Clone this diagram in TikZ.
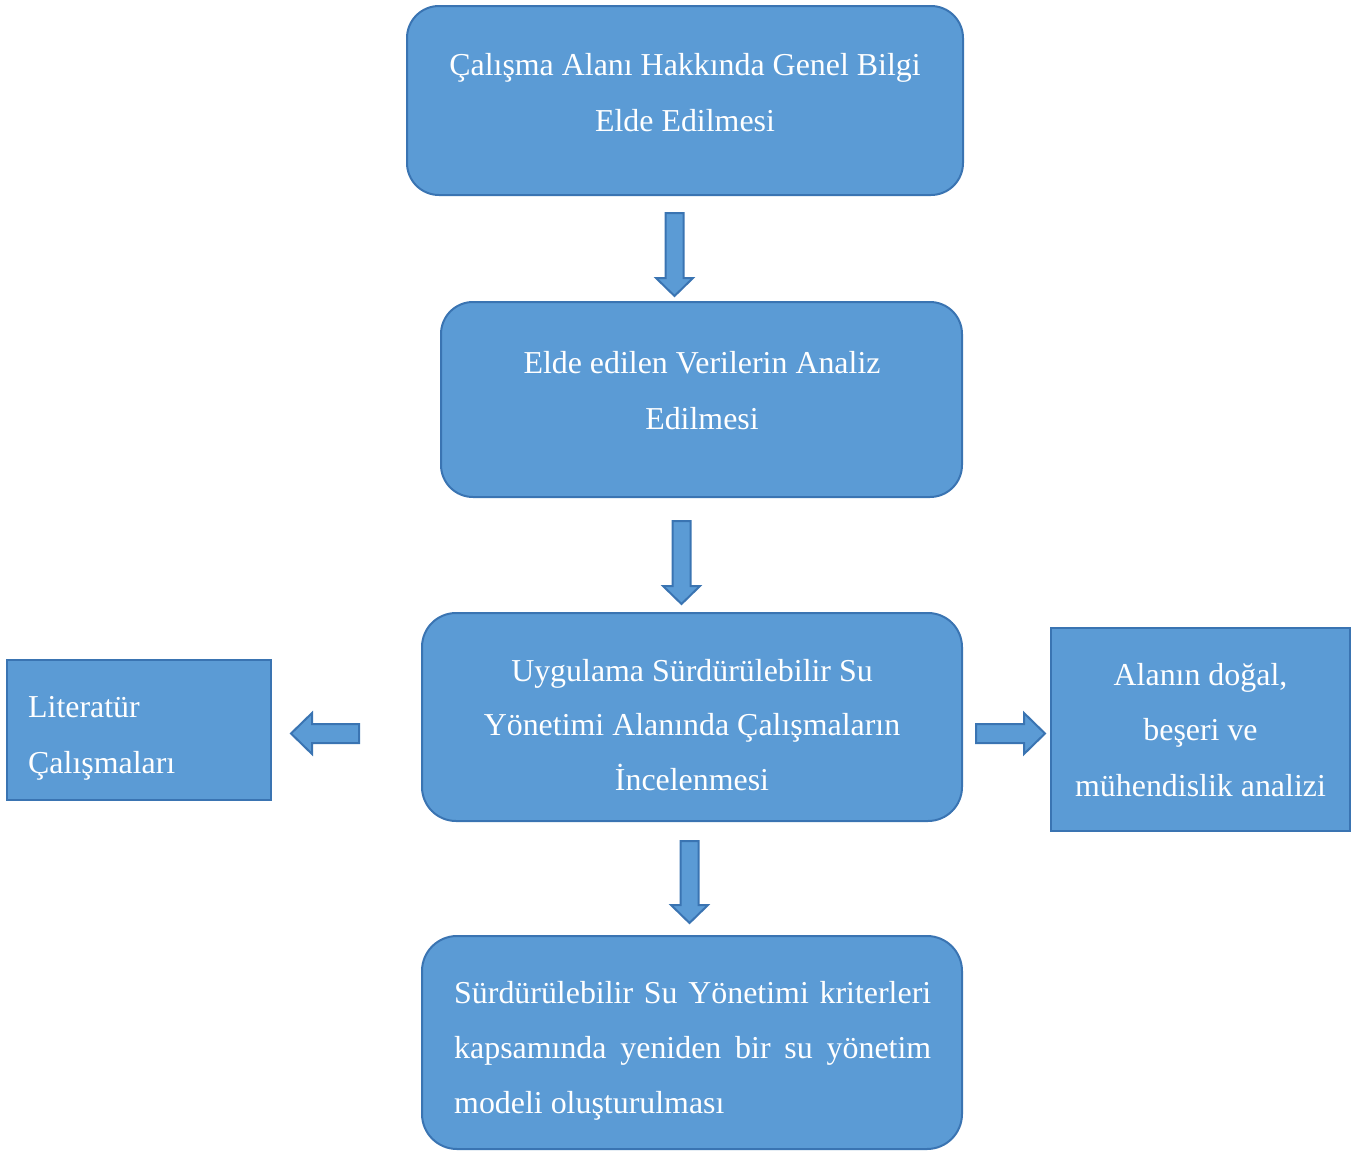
\documentclass[tikz,border=0pt]{standalone}
\usepackage{fontspec}
\setmainfont{Liberation Serif}
\definecolor{boxfill}{HTML}{5B9BD5}
\definecolor{boxline}{HTML}{3A74B2}
\begin{document}
\begin{tikzpicture}[x=1pt,y=-1pt,
  rbox/.style={draw=boxline, fill=boxfill, line width=2pt, inner sep=0pt},
  sbox/.style={draw=boxline, fill=boxfill, line width=2.2pt, inner sep=0pt},
  txt/.style={text=white, anchor=base, inner sep=0pt, font=\fontsize{31.9}{55}\selectfont},
  txtl/.style={txt, anchor=base west},
  barrow/.style={draw=boxline, fill=boxfill, line width=2pt, line join=miter}
]
\useasboundingbox (0,0) rectangle (1363,1151);

% boxes
\node[rbox, rounded corners=32pt, minimum width=556pt, minimum height=189pt] (b1) at (685,100.5) {};
\node[rbox, rounded corners=32pt, minimum width=521pt, minimum height=195pt] (b2) at (701.5,399.5) {};
\node[rbox, rounded corners=34pt, minimum width=540pt, minimum height=208pt] (b3) at (692,717) {};
\node[sbox, minimum width=264pt, minimum height=140pt] (bl) at (139,730) {};
\node[sbox, minimum width=299pt, minimum height=203pt] (br) at (1200.5,729.5) {};
\node[rbox, rounded corners=35pt, minimum width=540pt, minimum height=213pt] (b4) at (692,1042.5) {};

% texts
\node[txt] (t11) at (685,75) {Çalışma Alanı Hakkında Genel Bilgi};
\node[txt] (t12) at (685,131) {Elde Edilmesi};
\node[txt] (t21) at (702,373) {Elde edilen Verilerin Analiz};
\node[txt] (t22) at (702,429) {Edilmesi};
\node[txt] (t31) at (692,681) {Uygulama Sürdürülebilir Su};
\node[txt] (t32) at (692,735.5) {Yönetimi Alanında Çalışmaların};
\node[txt] (t33) at (692,790) {İncelenmesi};
\node[txtl] (tl1) at (28,717) {Literatür};
\node[txtl] (tl2) at (28,773) {Çalışmaları};
\node[txt] (tr1) at (1200.5,685) {Alanın doğal,};
\node[txt] (tr2) at (1200.5,740.5) {beşeri ve};
\node[txt] (tr3) at (1200.5,796) {mühendislik analizi};
\node[txtl] (t41) at (454,1003) {\makebox[477pt][s]{Sürdürülebilir Su Yönetimi kriterleri}};
\node[txtl] (t42) at (454,1058) {\makebox[477pt][s]{kapsamında yeniden bir su yönetim}};
\node[txtl] (t43) at (454,1113) {modeli oluşturulması};

% block arrows (down)
\draw[barrow] (665.5,213) -- (683.5,213) -- (683.5,278) -- (693,278) -- (674.5,296) -- (656,278) -- (665.5,278) -- cycle;
\draw[barrow] (672.5,521) -- (690.5,521) -- (690.5,586) -- (700,586) -- (681.5,604) -- (663,586) -- (672.5,586) -- cycle;
\draw[barrow] (680.5,841) -- (698.5,841) -- (698.5,905) -- (708,905) -- (689.5,923) -- (671,905) -- (680.5,905) -- cycle;
% left arrow
\draw[barrow] (359,724) -- (359,743) -- (312,743) -- (312,754) -- (291,733.5) -- (312,713) -- (312,724) -- cycle;
% right arrow
\draw[barrow] (976,724) -- (976,743) -- (1024,743) -- (1024,754) -- (1045,733.5) -- (1024,713) -- (1024,724) -- cycle;
\end{tikzpicture}
\end{document}
